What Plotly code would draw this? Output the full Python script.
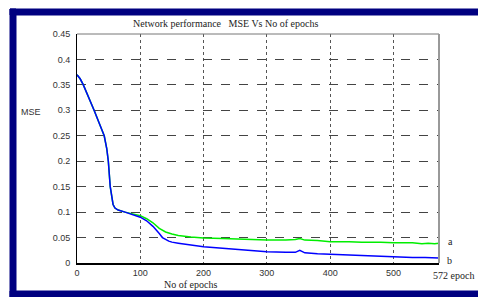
import plotly.graph_objects as go

# Data
epochs_a = [0, 5, 10, 20, 27, 35, 43, 47, 49.5, 52.5, 55, 57, 60, 65, 76, 87, 95, 100, 110, 120, 130, 140,
            150, 160, 180, 200, 230, 250, 280, 300, 330, 345, 352, 360, 380, 400, 430, 450, 480, 500, 530,
            545, 555, 565, 572]
mse_a = [0.370, 0.362, 0.350, 0.322, 0.300, 0.275, 0.250, 0.225, 0.200, 0.150, 0.125, 0.115, 0.108, 0.104,
         0.100, 0.097, 0.095, 0.093, 0.087, 0.079, 0.068, 0.061, 0.057, 0.054, 0.051, 0.049, 0.048, 0.047,
         0.046, 0.045, 0.045, 0.046, 0.048, 0.045, 0.044, 0.042, 0.042, 0.041, 0.041, 0.040, 0.040, 0.038,
         0.039, 0.038, 0.039]

epochs_b = [0, 5, 10, 20, 27, 35, 43, 47, 49.5, 52.5, 55, 57, 60, 65, 76, 87, 95, 100, 110, 120, 130, 135,
            145, 150, 160, 180, 200, 230, 250, 280, 300, 330, 345, 352, 360, 380, 400, 430, 450, 480, 500,
            530, 550, 572]
mse_b = [0.370, 0.362, 0.350, 0.322, 0.300, 0.275, 0.250, 0.225, 0.200, 0.150, 0.125, 0.115, 0.108, 0.104,
         0.100, 0.096, 0.093, 0.090, 0.083, 0.072, 0.058, 0.050, 0.043, 0.041, 0.039, 0.035, 0.032, 0.029,
         0.027, 0.024, 0.022, 0.021, 0.021, 0.025, 0.020, 0.018, 0.017, 0.016, 0.015, 0.013, 0.012, 0.011,
         0.011, 0.010]

x_ticks = [0, 100, 200, 300, 400, 500]
y_ticks = [0, 0.05, 0.1, 0.15, 0.2, 0.25, 0.3, 0.35, 0.4, 0.45]
y_tick_text = ["0", "0.05", "0.1", "0.15", "0.2", "0.25", "0.3", "0.35", "0.4", "0.45"]

W, H = 478, 297
L, R, T, B = 77, 439, 34, 263


def fx(x):
    return (x - L) / (R - L)


def fy(y):
    return (B - y) / (B - T)


fig = go.Figure()
fig.add_trace(go.Scatter(x=epochs_a, y=mse_a, mode="lines", line=dict(color="#00ee00", width=1.5),
                         showlegend=False, hoverinfo="skip"))
fig.add_trace(go.Scatter(x=epochs_b, y=mse_b, mode="lines", line=dict(color="#0000ff", width=1.5),
                         showlegend=False, hoverinfo="skip"))

navy = "#000080"
# outer navy frame
for (x0, y0, x1, y1) in [(10, 9, 16, 297), (10, 9, 490, 15), (10, 291, 490, 297)]:
    fig.add_shape(type="rect", xref="paper", yref="paper", x0=fx(x0), x1=fx(x1), y0=fy(y1), y1=fy(y0),
                  fillcolor=navy, line=dict(color=navy, width=1))
# top and right gray box lines
fig.add_shape(type="line", xref="paper", yref="paper", x0=0, x1=1, y0=1, y1=1,
              line=dict(color="#777777", width=1))
fig.add_shape(type="line", xref="paper", yref="paper", x0=1, x1=1, y0=0, y1=1,
              line=dict(color="#999999", width=2))

serif = "Liberation Serif, Times New Roman, serif"
sans = "Liberation Sans, Arial, sans-serif"
annotations = [
    dict(text="Network performance\u00a0\u00a0\u00a0MSE Vs No of epochs", x=fx(225), y=fy(23), xref="paper",
         yref="paper", showarrow=False, font=dict(family=serif, size=10, color="#222222"),
         xanchor="center", yanchor="middle"),
    dict(text="MSE", x=fx(31), y=fy(112), xref="paper", yref="paper", showarrow=False,
         font=dict(family=sans, size=9, color="#333333"), xanchor="center", yanchor="middle"),
    dict(text="No of epochs", x=fx(162), y=fy(284), xref="paper", yref="paper", showarrow=False,
         font=dict(family=serif, size=10, color="#222222"), xanchor="left", yanchor="middle"),
    dict(text="a", x=fx(446), y=fy(241), xref="paper", yref="paper", showarrow=False,
         font=dict(family=serif, size=10, color="#222222"), xanchor="left", yanchor="middle"),
    dict(text="b", x=fx(445), y=fy(260), xref="paper", yref="paper", showarrow=False,
         font=dict(family=serif, size=10, color="#222222"), xanchor="left", yanchor="middle"),
    dict(text="572 epoch", x=fx(431), y=fy(275), xref="paper", yref="paper", showarrow=False,
         font=dict(family=serif, size=10, color="#222222"), xanchor="left", yanchor="middle"),
]

fig.update_layout(
    width=W, height=H,
    margin=dict(l=L, r=W - R, t=T, b=H - B, pad=0),
    paper_bgcolor="white", plot_bgcolor="white",
    annotations=annotations,
    xaxis=dict(range=[0, 572], tickvals=x_ticks, showgrid=True, gridcolor="#555555", griddash="dot",
               gridwidth=1, showline=True, linecolor="black", linewidth=2, zeroline=False,
               ticks="", tickfont=dict(family=sans, size=9, color="#333333"), ticklabelstandoff=0),
    yaxis=dict(range=[0, 0.45], tickvals=y_ticks, ticktext=y_tick_text, showgrid=True, gridcolor="#444444",
               griddash="dash", gridwidth=1, showline=True, linecolor="black", linewidth=1, zeroline=False,
               ticks="", tickfont=dict(family=sans, size=9, color="#333333"), ticklabelstandoff=4),
)

fig.write_html("out.html", config={"displayModeBar": False},
               post_script="document.body.style.margin='0';document.body.style.overflow='hidden';")
